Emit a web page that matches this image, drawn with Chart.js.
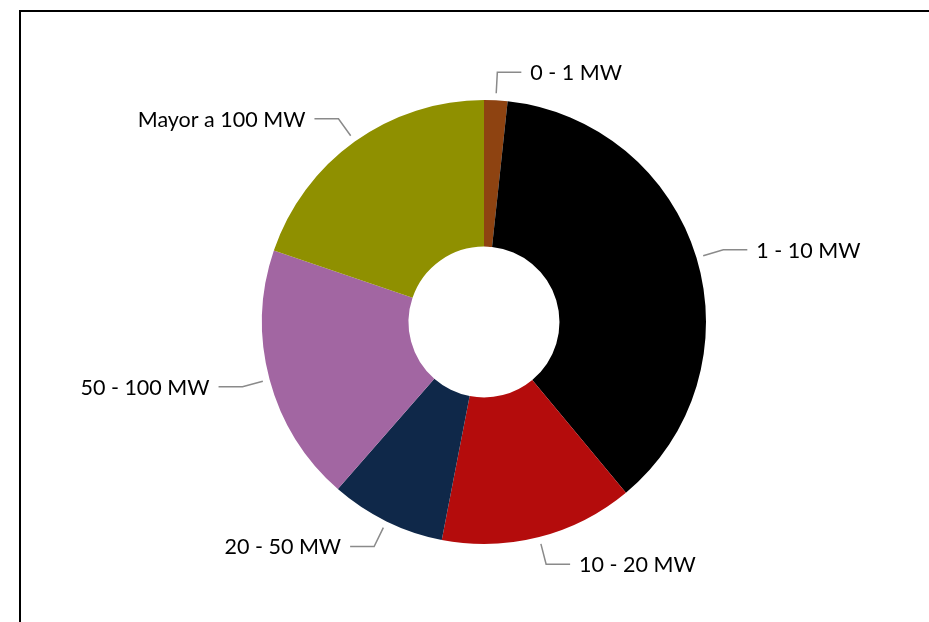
<!DOCTYPE html>
<html>
<head>
<meta charset="utf-8">
<script src="https://cdn.jsdelivr.net/npm/chart.js@4"></script>
<style>
  html, body { margin: 0; padding: 0; background: #fff; }
  #wrap { position: relative; width: 929px; height: 622px; }
  #frame { position: absolute; left: 19px; top: 10px; right: -5px; bottom: -5px;
           border: 2px solid #000; pointer-events: none; }
</style>
</head>
<body>
<div id="wrap">
  <canvas id="myChart" width="929" height="622"></canvas>
  <div id="frame"></div>
</div>
<script>
const categories = ['0 - 1 MW', '1 - 10 MW', '10 - 20 MW', '20 - 50 MW', '50 - 100 MW', 'Mayor a 100 MW'];
const shares = [1.7, 37.3, 14.1, 8.4, 18.8, 19.8];
const sliceColors = ['#8e4311', '#000000', '#b40c0c', '#0f2849', '#a266a2', '#8f9000'];

// leader lines + labels like the excel callouts
const calloutPlugin = {
    id: 'callouts',
    afterDatasetsDraw(chart) {
        const ctx = chart.ctx;
        const arcs = chart.getDatasetMeta(0).data;
        ctx.save();
        ctx.font = '21.5px Lato, "Open Sans", sans-serif';
        ctx.textBaseline = 'middle';
        arcs.forEach((arc, i) => {
            const mid = (arc.startAngle + arc.endAngle) / 2;
            const r = arc.outerRadius;
            const ax = arc.x + Math.cos(mid) * (r + 7);
            const ay = arc.y + Math.sin(mid) * (r + 7);
            const ex = arc.x + Math.cos(mid) * (r + 28);
            const ey = arc.y + Math.sin(mid) * (r + 28);
            const right = Math.cos(mid) >= 0;
            const hx = ex + (right ? 24 : -24);
            ctx.strokeStyle = '#8a8a8a';
            ctx.lineWidth = 1.5;
            ctx.beginPath();
            ctx.moveTo(ax, ay);
            ctx.lineTo(ex, ey);
            ctx.lineTo(hx, ey);
            ctx.stroke();
            ctx.fillStyle = '#000';
            ctx.textAlign = right ? 'left' : 'right';
            ctx.fillText(categories[i], hx + (right ? 9 : -9), ey + 1);
        });
        ctx.restore();
    }
};

const ctx = document.getElementById('myChart').getContext('2d');
const myChart = new Chart(ctx, {
    type: 'doughnut',
    data: {
        labels: categories,
        datasets: [{
            data: shares,
            backgroundColor: sliceColors,
            borderWidth: 0
        }]
    },
    options: {
        responsive: false,
        animation: false,
        cutout: '34%',
        layout: { padding: { left: 139, right: 100, top: 100, bottom: 78 } },
        plugins: {
            legend: { display: false },
            tooltip: { enabled: false }
        }
    },
    plugins: [calloutPlugin]
});
</script>
</body>
</html>
